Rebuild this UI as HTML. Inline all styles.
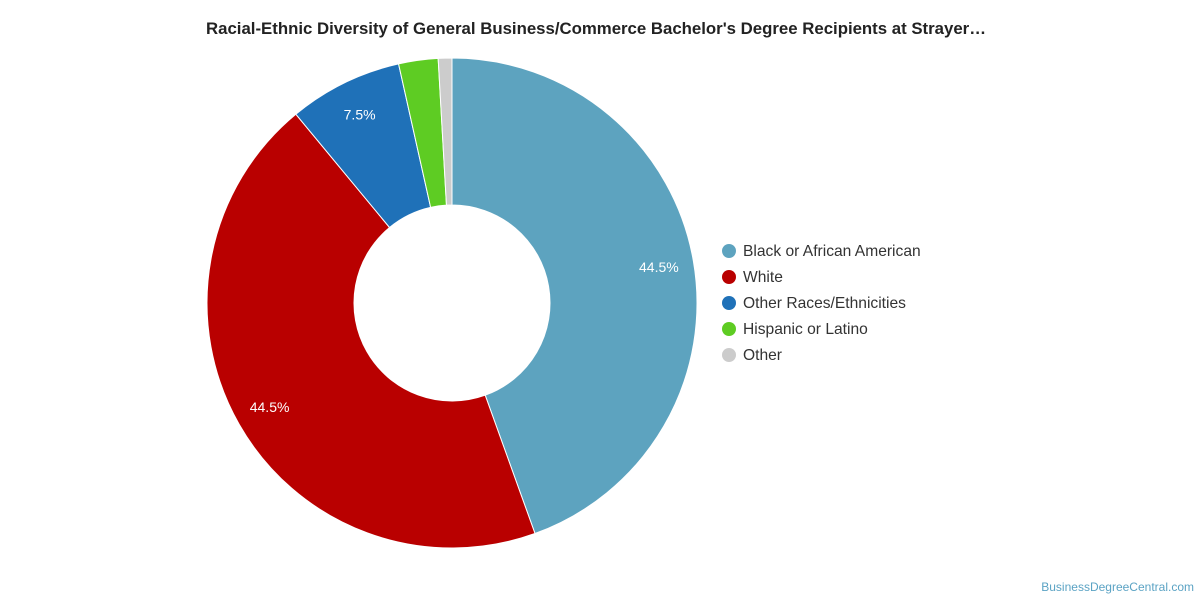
<!DOCTYPE html>
<html><head><meta charset="utf-8"><style>
body{margin:0;background:#fff;width:1200px;height:600px;overflow:hidden;font-family:"Liberation Sans",Roboto,sans-serif}
</style></head><body>
<svg width="1200" height="600">
<text x="596" y="34" text-anchor="middle" font-size="16.8" font-weight="bold" fill="#222">Racial-Ethnic Diversity of General Business/Commerce Bachelor's Degree Recipients at Strayer…</text>
<g id="slices"></g><g id="labels"></g><g id="legend"></g>
<text x="1194" y="591" text-anchor="end" font-size="12" fill="#5ba3c4">BusinessDegreeCentral.com</text>
</svg>
<script>
const categories=["Black or African American","White","Other Races/Ethnicities","Hispanic or Latino","Other"];
const values=[44.5,44.5,7.5,2.6,0.9];
const labelTexts=["44.5%","44.5%","7.5%","",""];
const colors=["#5da3bf","#b90000","#1f71b8","#5ecc23","#cccccc"];
const ns="http://www.w3.org/2000/svg";
const cx=452,cy=303,R=245,r=98;
const total=values.reduce((a,b)=>a+b,0);
const pt=(a,rad)=>[cx+rad*Math.sin(a),cy-rad*Math.cos(a)];
let a0=0;
const S=document.getElementById('slices'),L=document.getElementById('labels'),G=document.getElementById('legend');
values.forEach((v,i)=>{
 const a1=a0+v/total*2*Math.PI,big=(a1-a0)>Math.PI?1:0;
 const [x1,y1]=pt(a0,R),[x2,y2]=pt(a1,R),[x3,y3]=pt(a1,r),[x4,y4]=pt(a0,r);
 const p=document.createElementNS(ns,'path');
 p.setAttribute('d',`M${x1},${y1}A${R},${R} 0 ${big} 1 ${x2},${y2}L${x3},${y3}A${r},${r} 0 ${big} 0 ${x4},${y4}Z`);
 p.setAttribute('fill',colors[i]);p.setAttribute('stroke','#fff');p.setAttribute('stroke-width','1');
 
 
 S.appendChild(p);
 if(labelTexts[i]){
  const [lx,ly]=pt((a0+a1)/2,210);
  const t=document.createElementNS(ns,'text');
  t.setAttribute('x',lx);t.setAttribute('y',ly+5);t.setAttribute('text-anchor','middle');
  t.setAttribute('font-size','14');t.setAttribute('fill','#fff');t.textContent=labelTexts[i];
  
  
  L.appendChild(t);
 }
 const g=document.createElementNS(ns,'g');
 
 
 const y=251+i*26;
 g.innerHTML=`<circle cx="729" cy="${y}" r="7" fill="${colors[i]}"/><text x="743" y="${y+5}" font-size="15.6" fill="#333">${categories[i]}</text>`;
 G.appendChild(g);
 a0=a1;
});
</script>
</body></html>
